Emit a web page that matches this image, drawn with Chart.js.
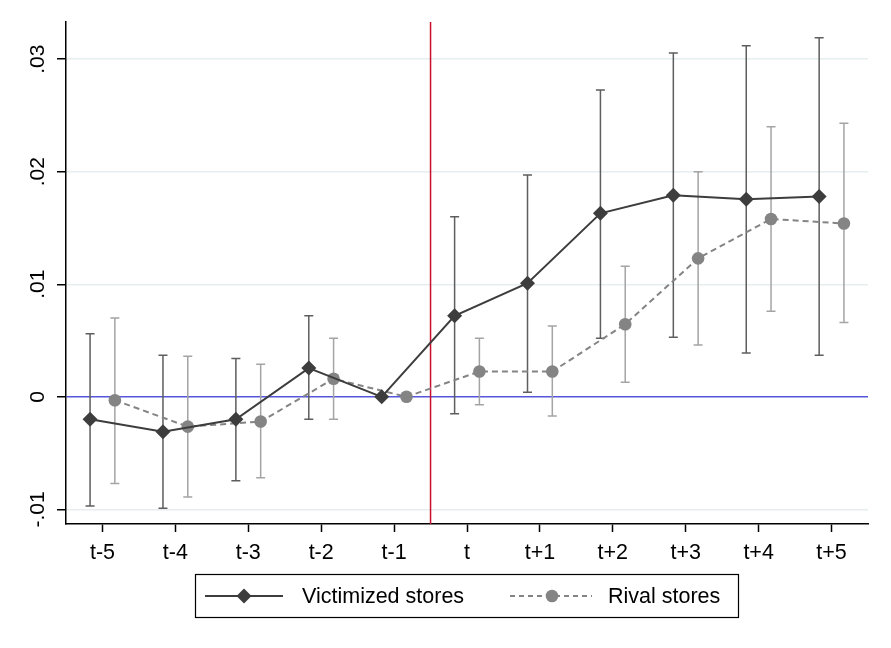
<!DOCTYPE html>
<html>
<head>
<meta charset="utf-8">
<script src="https://cdn.jsdelivr.net/npm/chart.js@4.4.0/dist/chart.umd.min.js"></script>
<style>
html, body { margin: 0; padding: 0; background: #fff; }
#wrap { width: 891px; height: 648px; }
</style>
</head>
<body>
<div id="wrap"><canvas id="grafic" width="891" height="648"></canvas></div>
<script>
// dades llegides del gràfic
const periodes = ['t-5', 't-4', 't-3', 't-2', 't-1', 't', 't+1', 't+2', 't+3', 't+4', 't+5'];

const victimEst = [-0.0020, -0.0031, -0.0020, 0.00255, 0, 0.0072, 0.0101, 0.0163, 0.0179, 0.01755, 0.0178];
const victimLo  = [-0.0097, -0.0099, -0.00745, -0.0020, null, -0.0015, 0.0004, 0.0052, 0.0053, 0.0039, 0.0037];
const victimHi  = [0.0056, 0.0037, 0.0034, 0.0072, null, 0.0160, 0.0197, 0.02725, 0.03055, 0.0312, 0.0319];

const rivalEst = [-0.0003, -0.00265, -0.0022, 0.0016, 0, 0.00225, 0.00225, 0.00645, 0.0123, 0.0158, 0.0154];
const rivalLo  = [-0.0077, -0.0089, -0.0072, -0.0020, null, -0.0007, -0.0017, 0.0013, 0.0046, 0.0076, 0.0066];
const rivalHi  = [0.0070, 0.0036, 0.0029, 0.0052, null, 0.0052, 0.0063, 0.0116, 0.0200, 0.0240, 0.0243];

const yTicks = [-0.01, 0, 0.01, 0.02, 0.03];
const yLabels = ['-.01', '0', '.01', '.02', '.03'];

const desplac = 0.17;     // separació entre les dues sèries
const tallIndex = 4.5;    // línia vertical del tractament

const colorVict = '#3d3d3d';
const colorRival = '#848484';
const colorCIVict = '#5e5e5e';
const colorCIRival = '#a4a4a4';
const fontFam = '"Liberation Sans", Arial, sans-serif';

// barres d'error + línia vertical vermella
const barresError = {
    id: 'barresError',
    beforeDatasetsDraw(chart) {
        const ctx = chart.ctx;
        const xs = chart.scales.x, ys = chart.scales.y;
        const area = chart.chartArea;
        ctx.save();
        // línia vermella
        const xr = xs.getPixelForValue(tallIndex);
        ctx.strokeStyle = '#c8102e';
        ctx.lineWidth = 1.5;
        ctx.beginPath(); ctx.moveTo(xr, area.top); ctx.lineTo(xr, area.bottom); ctx.stroke();

        const dibuixa = (lo, hi, off, color) => {
            ctx.strokeStyle = color;
            ctx.lineWidth = 1.5;
            for (let i = 0; i < periodes.length; i++) {
                if (lo[i] === null) continue;
                const x = xs.getPixelForValue(i + off);
                const y1 = ys.getPixelForValue(lo[i]);
                const y2 = ys.getPixelForValue(hi[i]);
                ctx.beginPath();
                ctx.moveTo(x, y1); ctx.lineTo(x, y2);
                ctx.moveTo(x - 4.5, y1); ctx.lineTo(x + 4.5, y1);
                ctx.moveTo(x - 4.5, y2); ctx.lineTo(x + 4.5, y2);
                ctx.stroke();
            }
        };
        dibuixa(rivalLo, rivalHi, desplac, colorCIRival);
        dibuixa(victimLo, victimHi, -desplac, colorCIVict);
        ctx.restore();
    },
    afterDraw(chart) {
        // etiquetes de l'eix y, girades
        const ctx = chart.ctx;
        const ys = chart.scales.y;
        ctx.save();
        ctx.fillStyle = '#000';
        ctx.font = '21px ' + fontFam;
        ctx.textAlign = 'center';
        ctx.textBaseline = 'middle';
        yTicks.forEach((v, k) => {
            ctx.save();
            ctx.translate(38, ys.getPixelForValue(v));
            ctx.rotate(-Math.PI / 2);
            ctx.fillText(yLabels[k], 0, 0);
            ctx.restore();
        });

        // llegenda
        const yMid = 596;
        ctx.strokeStyle = '#000';
        ctx.lineWidth = 1.2;
        ctx.strokeRect(195.5, 574.5, 543, 43);

        ctx.strokeStyle = colorVict;
        ctx.lineWidth = 2;
        ctx.beginPath(); ctx.moveTo(205, yMid); ctx.lineTo(283, yMid); ctx.stroke();
        ctx.fillStyle = colorVict;
        ctx.beginPath();
        ctx.moveTo(244, yMid - 7.5); ctx.lineTo(251.5, yMid); ctx.lineTo(244, yMid + 7.5); ctx.lineTo(236.5, yMid);
        ctx.closePath(); ctx.fill();

        ctx.strokeStyle = colorRival;
        ctx.setLineDash([5, 4]);
        ctx.beginPath(); ctx.moveTo(510, yMid); ctx.lineTo(592, yMid); ctx.stroke();
        ctx.setLineDash([]);
        ctx.fillStyle = colorRival;
        ctx.beginPath(); ctx.arc(552, yMid, 6.3, 0, Math.PI * 2); ctx.fill();

        ctx.fillStyle = '#000';
        ctx.font = '21.5px ' + fontFam;
        ctx.textAlign = 'left';
        ctx.fillText('Victimized stores', 302, yMid + 1);
        ctx.fillText('Rival stores', 608, yMid + 1);
        ctx.restore();
    }
};

const ctx = document.getElementById('grafic').getContext('2d');
const grafic = new Chart(ctx, {
    type: 'line',
    data: {
        datasets: [{
            label: 'Victimized stores',
            data: victimEst.map((v, i) => ({ x: i - desplac, y: v })),
            borderColor: colorVict,
            backgroundColor: colorVict,
            borderWidth: 2,
            pointStyle: 'rectRot',
            pointRadius: 7.5,
            pointBorderWidth: 0,
            tension: 0,
            order: 1
        }, {
            label: 'Rival stores',
            data: rivalEst.map((v, i) => ({ x: i + desplac, y: v })),
            borderColor: colorRival,
            backgroundColor: colorRival,
            borderWidth: 2,
            borderDash: [6, 4],
            pointStyle: 'circle',
            pointRadius: 6.3,
            pointBorderWidth: 0,
            tension: 0,
            order: 2
        }]
    },
    options: {
        responsive: false,
        animation: false,
        layout: { padding: { top: 22, right: 23, left: 0, bottom: 74 } },
        plugins: {
            legend: { display: false },
            tooltip: { enabled: false }
        },
        scales: {
            x: {
                type: 'linear',
                min: -0.5,
                max: 10.5,
                afterBuildTicks: (s) => { s.ticks = periodes.map((p, i) => ({ value: i })); },
                afterFit: (s) => { s.height = 50; },
                ticks: {
                    autoSkip: false,
                    maxRotation: 0,
                    padding: 8,
                    color: '#000',
                    font: { size: 21.5, family: fontFam },
                    callback: (v) => periodes[v]
                },
                grid: { drawOnChartArea: false, drawTicks: true, tickLength: 8, tickColor: '#000', tickWidth: 1.5 },
                border: { display: true, color: '#000', width: 1.5 }
            },
            y: {
                min: -0.0113,
                max: 0.0333,
                afterBuildTicks: (s) => { s.ticks = yTicks.map(v => ({ value: v })); },
                afterFit: (s) => { s.width = 66; },
                ticks: { display: false },
                grid: {
                    color: (c) => c.tick && c.tick.value === 0 ? '#5555dd' : '#e6eef0',
                    lineWidth: 1.5,
                    tickLength: 9,
                    tickColor: '#000',
                    tickWidth: 1.5
                },
                border: { display: true, color: '#000', width: 1.5 }
            }
        }
    },
    plugins: [barresError]
});
</script>
</body>
</html>
